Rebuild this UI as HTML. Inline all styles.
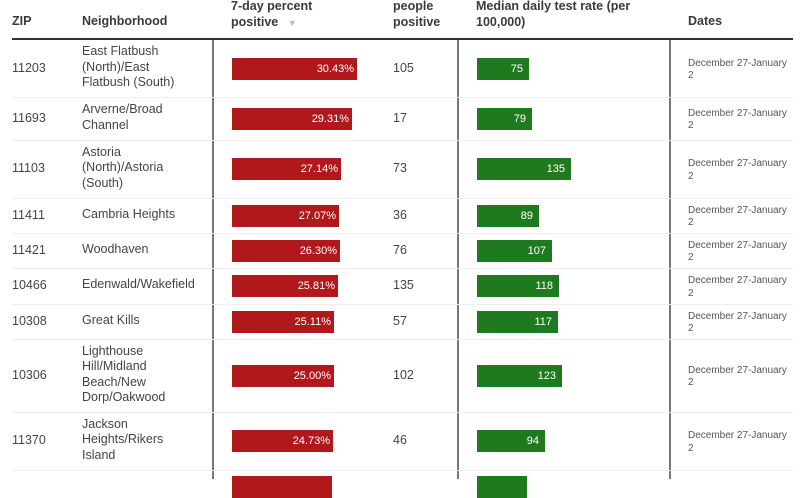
<!DOCTYPE html>
<html><head><meta charset="utf-8"><style>
body{margin:0;width:800px;height:479px;overflow:hidden;background:#fff;font-family:"Liberation Sans",Arial,sans-serif;position:relative}
.a{position:absolute}
.h{font-weight:bold;font-size:12.5px;color:#3a3a3a;line-height:16px}
.t{font-size:12.5px;color:#444;line-height:15.5px}
.d{font-size:10px;color:#555;line-height:12.5px}
.r{background:#b0181b;height:22px;color:#fff;font-size:11px;text-align:right;line-height:22px;padding-right:3px;box-sizing:border-box}
.g{background:#1f7a1f;height:22px;color:#fff;font-size:11px;text-align:right;line-height:22px;padding-right:6px;box-sizing:border-box}
.hl{height:1px;background:#eee;left:12px;width:781px}
.vl{width:1.5px;background:#777;top:40px;height:439px}
</style></head><body>
<div class="a h" style="left:12px;top:13px">ZIP</div>
<div class="a h" style="left:82px;top:13px">Neighborhood</div>
<div class="a h" style="left:231px;top:-2px">7-day percent<br>positive <span style="color:#bbb;font-size:9px;margin-left:6px">▼</span></div>
<div class="a h" style="left:393px;top:-2px">people<br>positive</div>
<div class="a h" style="left:476px;top:-2px">Median daily test rate (per<br>100,000)</div>
<div class="a h" style="left:688px;top:13px">Dates</div>
<div class="a" style="left:12px;top:38px;width:781px;height:2px;background:#333"></div>
<div class="a vl" style="left:212px"></div>
<div class="a vl" style="left:457px"></div>
<div class="a vl" style="left:669px"></div>
<div id="rows"></div>
<script>
var R=[["11203","East Flatbush<br>(North)/East<br>Flatbush (South)","30.43%",125,"105","75",52,40,97],
["11693","Arverne/Broad<br>Channel","29.31%",120,"17","79",55,97,140],
["11103","Astoria<br>(North)/Astoria<br>(South)","27.14%",109,"73","135",94,140,198],
["11411","Cambria Heights","27.07%",107,"36","89",62,198,233],
["11421","Woodhaven","26.30%",108,"76","107",75,233,268],
["10466","Edenwald/Wakefield","25.81%",106,"135","118",82,268,304],
["10308","Great Kills","25.11%",102,"57","117",81,304,339],
["10306","Lighthouse<br>Hill/Midland<br>Beach/New<br>Dorp/Oakwood","25.00%",102,"102","123",85,339,412],
["11370","Jackson<br>Heights/Rikers<br>Island","24.73%",101,"46","94",68,412,470]];
var h="";
R.forEach(function(r){var c=(r[7]+r[8])/2;
h+='<div class="a t" style="left:12px;top:'+(c-8)+'px">'+r[0]+'</div>';
var n=r[1].split("<br>").length;
h+='<div class="a t" style="left:82px;top:'+(c-n*7.75-1)+'px">'+r[1]+'</div>';
h+='<div class="a r" style="left:232px;top:'+(c-11)+'px;width:'+r[3]+'px">'+r[2]+'</div>';
h+='<div class="a t" style="left:393px;top:'+(c-8)+'px">'+r[4]+'</div>';
h+='<div class="a g" style="left:477px;top:'+(c-11)+'px;width:'+r[6]+'px">'+r[5]+'</div>';
h+='<div class="a d" style="left:688px;top:'+(c-11)+'px">December 27-January<br>2</div>';
h+='<div class="a hl" style="top:'+r[8]+'px"></div>';});
h+='<div class="a r" style="left:232px;top:476px;width:100px"></div><div class="a g" style="left:477px;top:476px;width:50px"></div>';
document.getElementById("rows").innerHTML=h;
</script>
</body></html>
